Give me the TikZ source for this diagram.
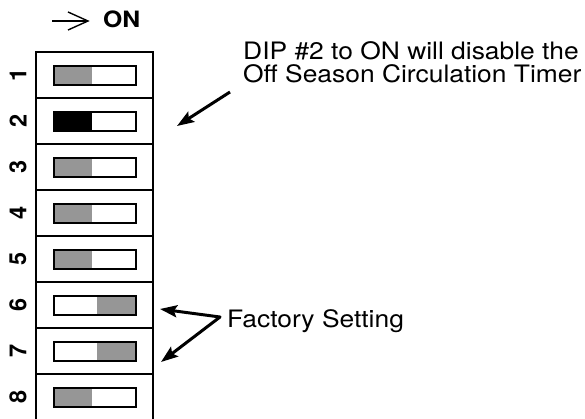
\documentclass[tikz,border=0pt]{standalone}
\usepackage{fontspec}
\setmainfont{TeX Gyre Heros}
\newfontfamily\notefont[FakeStretch=1.1]{TeX Gyre Heros}
\usetikzlibrary{arrows.meta}
\definecolor{swgray}{RGB}{150,150,150}
\begin{document}
\begin{tikzpicture}[x=1pt,y=-1pt,
  rowbox/.style={draw, line width=2pt, minimum width=117pt, inner sep=0pt},
  swbox/.style={draw, line width=1.8pt, minimum width=82pt, minimum height=19pt, inner sep=0pt},
  numlab/.style={font=\fontsize{23.5}{23.5}\selectfont\bfseries, rotate=90, inner sep=0pt},
  note/.style={font=\notefont\fontsize{24}{23}\selectfont, inner sep=0pt, anchor=base west},
  bigarrow/.style={line width=3pt, line join=round, -{Stealth[length=17pt,width=12pt,inset=3pt]}},
  thinline/.style={line width=1.4pt, line join=miter},
]
\useasboundingbox (0,0) rectangle (585,419);
% frame rows
\foreach \i/\y in {1/75,2/121,3/167,4/213,5/259,6/305,7/351}{
  \node[rowbox, minimum height=46pt] (r\i) at (94.5,\y) {};
}
\node[rowbox, minimum height=66pt] (r8) at (94.5,407) {};
% switches
\foreach \i/\y/\c/\a/\b in {1/75/swgray/54/92, 2/121/black/54/92, 3/167/swgray/54/92, 4/213/swgray/54/92, 5/259/swgray/54/92, 6/305/swgray/97/136, 7/351/swgray/97/136, 8/397/swgray/54/92}{
  \fill[\c] (\a,\y-9) rectangle (\b,\y+10);
  \node[swbox] (s\i) at (95,\y+0.5) {};
  \node[numlab] (n\i) at (18,\y) {\i};
}
% ON arrow
\coordinate (ona) at (52,21);
\coordinate (ontip) at (88,21);
\coordinate (onv1) at (68,12);
\coordinate (onv2) at (68,30);
\draw[thinline] (ona) -- (ontip);
\draw[thinline] (onv1) -- (ontip) -- (onv2);
\node[font=\notefont\fontsize{22.5}{22.5}\selectfont\bfseries, anchor=base west, inner sep=0pt] (on) at (103,28) {ON};
% notes
\node[note, align=left] (dip) at (243,83) {DIP \#2 to ON will disable the\\Off Season Circulation Timer};
\node[note] (fs) at (227,327) {Factory Setting};
% arrows
\coordinate (dipfrom) at (230,92);
\coordinate (dipto) at (177,126);
\draw[bigarrow] (dipfrom) -- (dipto);
\coordinate (fsv) at (220,317);
\coordinate (fs6) at (160,309);
\coordinate (fs7) at (161,362);
\draw[line width=3pt, line join=round, {Stealth[length=17pt,width=12pt,inset=3pt]}-{Stealth[length=17pt,width=12pt,inset=3pt]}] (fs6) -- (fsv) -- (fs7);
\end{tikzpicture}
\end{document}
